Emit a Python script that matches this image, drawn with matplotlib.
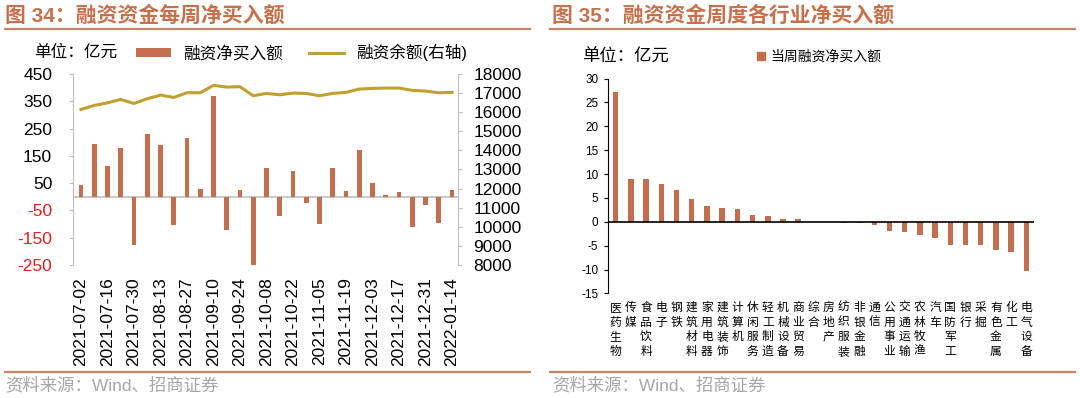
import matplotlib.pyplot as plt
from matplotlib.lines import Line2D
from matplotlib.patches import Patch
import numpy as np

plt.rcParams['font.family'] = ['Liberation Sans', 'Noto Sans CJK SC']
plt.rcParams['axes.unicode_minus'] = False

# 图34 data
weeks = ['2021-07-02', '2021-07-09', '2021-07-16', '2021-07-23', '2021-07-30',
         '2021-08-06', '2021-08-13', '2021-08-20', '2021-08-27', '2021-09-03',
         '2021-09-10', '2021-09-17', '2021-09-24', '2021-10-01', '2021-10-08',
         '2021-10-15', '2021-10-22', '2021-10-29', '2021-11-05', '2021-11-12',
         '2021-11-19', '2021-11-26', '2021-12-03', '2021-12-10', '2021-12-17',
         '2021-12-24', '2021-12-31', '2022-01-07', '2022-01-14']
net_buy = [42, 194, 112, 180, -177, 231, 189, -104, 217, 28, 370, -121, 23, -256,
           106, -70, 94, -21, -98, 106, 22, 173, 51, 7, 19, -112, -30, -95, 24]
balance = [16142, 16353, 16490, 16667, 16456, 16702, 16895, 16772, 17018, 17018,
           17404, 17316, 17333, 16860, 16983, 16912, 17000, 16983, 16860, 16983,
           17037, 17211, 17247, 17263, 17263, 17142, 17105, 17016, 17037]

# 图35 data
industries = ['医药生物', '传媒', '食品饮料', '电子', '钢铁', '建筑材料', '家用电器',
              '建筑装饰', '计算机', '休闲服务', '轻工制造', '机械设备', '商业贸易',
              '综合', '房地产', '纺织服装', '非银金融', '通信', '公用事业', '交通运输',
              '农林牧渔', '汽车', '国防军工', '银行', '采掘', '有色金属', '化工', '电气设备']
ind_buy = [27.2, 9.0, 8.9, 7.9, 6.7, 4.8, 3.4, 3.0, 2.7, 1.4, 1.2, 0.7, 0.6, 0.05,
           -0.1, -0.15, -0.3, -0.6, -1.9, -2.1, -2.7, -3.3, -4.9, -4.9, -4.95,
           -5.8, -6.3, -10.3]

BAR = '#C46E50'
GOLD = '#BFA030'
TITLE = '#C8704A'
RULE = '#C8866A'
GRAY = '#BFBFBF'

fig = plt.figure(figsize=(10.8, 3.98), dpi=100)

# ---------------- left panel ----------------
ax1 = fig.add_axes([0.0676, 0.3342, 0.3565, 0.4799])
x = np.arange(len(weeks))
bars = ax1.bar(x, net_buy, width=0.36, color=BAR, zorder=3)
ax1.axhline(0, color=GRAY, lw=1.2, zorder=2)
ax1.set_xlim(-0.6, len(weeks) - 0.55)
ax1.set_ylim(-250, 450)
ax1.set_yticks(np.arange(-250, 451, 100))
ax1.tick_params(axis='y', direction='out', length=3, color=GRAY, labelsize=12.5, pad=12)
for lab, v in zip(ax1.get_yticklabels(), np.arange(-250, 451, 100)):
    if v < 0:
        lab.set_color('#E02020')
ax1.set_xticks(x[::2])
ax1.set_xticklabels(weeks[::2], rotation=90, fontsize=12.5)
ax1.tick_params(axis='x', length=0, pad=9)
for s in ['top', 'right', 'bottom']:
    ax1.spines[s].set_visible(False)
ax1.spines['left'].set_color(GRAY)

ax2 = ax1.twinx()
line, = ax2.plot(x, balance, color=GOLD, lw=2.2, zorder=4)
ax2.set_ylim(8000, 18000)
ax2.set_yticks(np.arange(8000, 18001, 1000))
ax2.tick_params(axis='y', direction='out', length=3, color=GRAY, labelsize=12.5, pad=8)
for s in ['top', 'left', 'bottom']:
    ax2.spines[s].set_visible(False)
ax2.spines['right'].set_color(GRAY)

fig.text(0.032, 0.868, '单位：亿元', fontsize=12, va='center')
fig.legend([bars, line], ['融资净买入额', '融资余额(右轴)'], ncol=2, frameon=False,
           loc='center left', bbox_to_anchor=(0.126, 0.868), fontsize=12,
           handlelength=2.1, handleheight=0.45, columnspacing=1.6, handletextpad=0.7,
           borderaxespad=0, borderpad=0)

# ---------------- right panel ----------------
ax3 = fig.add_axes([0.563, 0.2626, 0.3944, 0.540])
xi = np.arange(len(industries))
bars3 = ax3.bar(xi, ind_buy, width=0.36, color=BAR, zorder=3)
ax3.axhline(0, color='black', lw=1.2, zorder=4)
ax3.set_xlim(-0.5, len(industries) - 0.5)
ax3.set_ylim(-15, 30)
ax3.set_yticks(np.arange(-15, 31, 5))
ax3.tick_params(axis='y', direction='out', length=3, color='black', labelsize=8.5, pad=4)
ax3.set_xticks(xi)
ax3.set_xticklabels(['\n'.join(n) for n in industries], fontsize=8.5, linespacing=1.3)
ax3.tick_params(axis='x', length=0, pad=6)
for s in ['top', 'right', 'bottom']:
    ax3.spines[s].set_visible(False)
ax3.spines['left'].set_color('black')

fig.text(0.539, 0.857, '单位：亿元', fontsize=12.5, va='center')
fig.legend([Patch(color=BAR)], ['当周融资净买入额'], frameon=False,
           loc='center left', bbox_to_anchor=(0.701, 0.857), fontsize=10,
           handlelength=0.55, handleheight=0.55, handletextpad=0.4,
           borderaxespad=0, borderpad=0)

# ---------------- titles, rules, sources ----------------
fig.text(0.005, 0.962, '图 34：融资资金每周净买入额', fontsize=15, fontweight='bold',
         color=TITLE, va='center')
fig.text(0.511, 0.962, '图 35：融资资金周度各行业净买入额', fontsize=15, fontweight='bold',
         color=TITLE, va='center')
for x0, x1 in [(5, 530), (550, 1075)]:
    fig.add_artist(Line2D([x0 / 1080, x1 / 1080], [0.926, 0.926], color=RULE, lw=1.6))
    fig.add_artist(Line2D([x0 / 1080, x1 / 1080], [0.065, 0.065], color=RULE, lw=1.6))
fig.text(0.005, 0.032, '资料来源：Wind、招商证券', fontsize=12.5, color='#A6A6A6', va='center')
fig.text(0.511, 0.032, '资料来源：Wind、招商证券', fontsize=12.5, color='#A6A6A6', va='center')

fig.savefig('out.png', dpi=100)
